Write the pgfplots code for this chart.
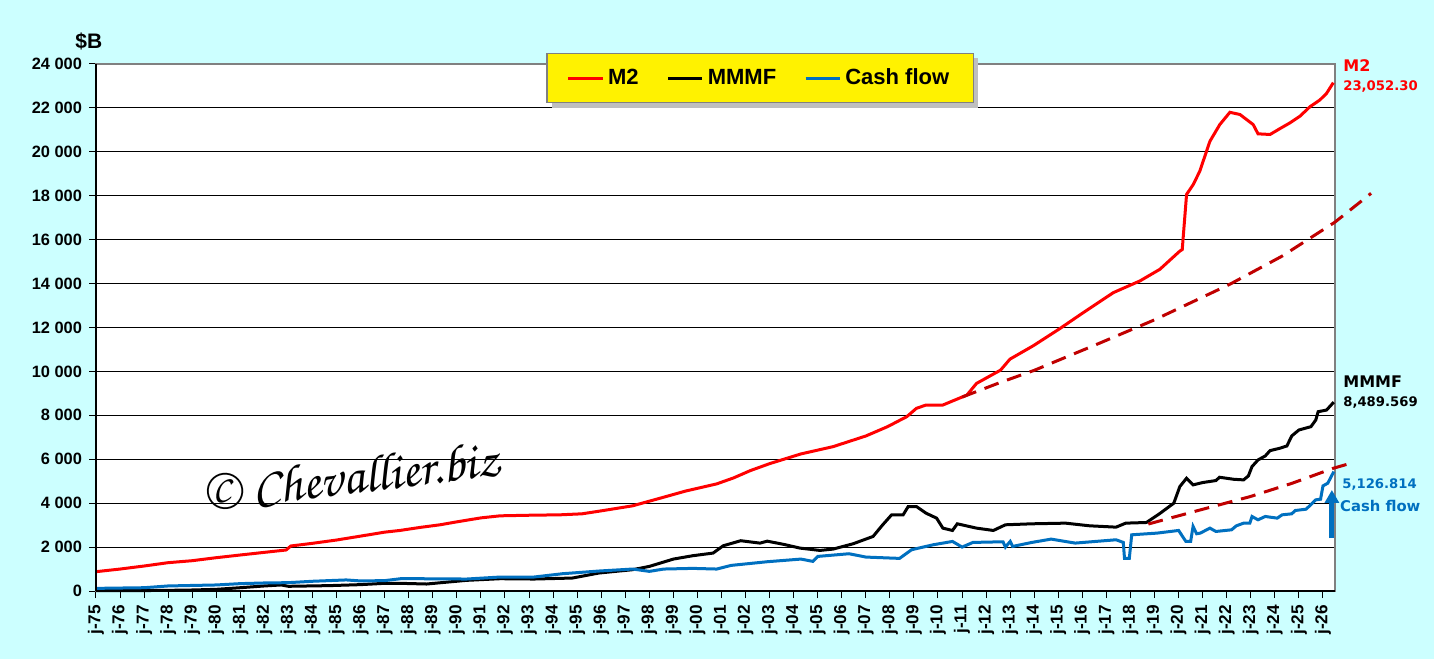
\documentclass[border=0pt]{standalone}
\usepackage{pgfplots}
\pgfplotsset{compat=1.18}
\usepackage{fontspec}
\setmainfont{Liberation Sans}
\newfontfamily\dvs{DejaVu Sans}
\IfFontExistsTF{TeX Gyre Chorus}{\newfontfamily\chorus{TeX Gyre Chorus}}{%
  \IfFontExistsTF{lmroman10-italic.otf}{\newfontfamily\chorus{lmroman10-italic.otf}}{\newcommand\chorus{\itshape}}}
\usetikzlibrary{arrows.meta}
\definecolor{bg}{HTML}{CCFFFF}
\definecolor{cfblue}{HTML}{0070C0}
\definecolor{dred}{HTML}{C00000}
\definecolor{frame}{HTML}{808080}
\begin{document}
\begin{tikzpicture}
\fill[bg] (-48pt,-34pt) rectangle (669pt,295.5pt);
\useasboundingbox (-48pt,-34pt) rectangle (669pt,295.5pt);
\begin{axis}[
  at={(0pt,0pt)}, anchor=south west,
  scale only axis, width=619.5pt, height=263.5pt,
  xmin=1975, xmax=2026.5, ymin=0, ymax=24000,
  clip=false,
  axis background/.style={fill=white},
  axis line style={draw=frame, line width=1pt},
  ytick={0,2000,...,24000},
  scaled y ticks=false,
  ymajorgrids, grid style={black, line width=0.5pt},
  xtick={1975,...,2026},
  xticklabels={j-75,j-76,j-77,j-78,j-79,j-80,j-81,j-82,j-83,j-84,j-85,j-86,j-87,j-88,j-89,j-90,j-91,j-92,j-93,j-94,j-95,j-96,j-97,j-98,j-99,j-00,j-01,j-02,j-03,j-04,j-05,j-06,j-07,j-08,j-09,j-10,j-11,j-12,j-13,j-14,j-15,j-16,j-17,j-18,j-19,j-20,j-21,j-22,j-23,j-24,j-25,j-26},
  tick align=outside, tick pos=left, major tick length=3.5pt,
  tick style={black, line width=0.5pt},
  /pgf/number format/.cd, fixed, 1000 sep={\ }, assume math mode=true,
  /pgfplots/.cd,
  xticklabel style={rotate=90, anchor=east, font=\bfseries\fontsize{8.6}{9}\selectfont},
  yticklabel style={font=\bfseries\fontsize{8.2}{9}\selectfont},
  legend columns=3,
  legend style={at={(0.536,0.973)}, anchor=center, fill=yellow, draw=frame, line width=0.6pt,
    font=\bfseries\fontsize{11}{13}\selectfont, inner xsep=10pt, inner ysep=5.5pt,
    /tikz/every even column/.append style={column sep=12pt}},
]
\node[rotate=7, font=\chorus\fontsize{26}{30}\selectfont] at (axis cs:1985.6,5146) {© Chevallier.biz};
\fill[black!25] (axis cs:1993.95,24273) rectangle (axis cs:2011.66,21996);

\addplot[red, line width=1.5pt] coordinates {
(1975.0,880)(1976.0,1000)(1977.0,1138)(1978.0,1290)(1979.0,1380)(1980.0,1517)(1981.0,1640)(1982.0,1760)(1982.9,1867)(1983.1,2050)(1984.0,2172)(1985.0,2322)(1986.0,2500)(1987.0,2680)(1987.63,2757)(1988.5,2900)(1989.3,3015)(1990.0,3150)(1991.0,3330)(1991.8,3424)(1993.0,3450)(1994.3,3470)(1995.2,3515)(1996.0,3650)(1997.3,3878)(1998.7,4303)(1999.5,4550)(2000.8,4878)(2001.5,5150)(2002.2,5484)(2003.0,5800)(2004.3,6242)(2005.64,6575)(2007.0,7060)(2007.9,7484)(2008.7,7939)(2009.1,8318)(2009.5,8470)(2010.2,8470)(2011.2,8924)(2011.6,9454)(2012.6,10060)(2012.99,10560)(2013.96,11170)(2015.07,11955)(2016.04,12680)(2017.29,13590)(2018.39,14120)(2019.22,14650)(2020.05,15480)(2020.15,15550)(2020.33,18060)(2020.61,18515)(2020.88,19120)(2021.3,20480)(2021.71,21240)(2022.13,21800)(2022.55,21700)(2023.1,21240)(2023.3,20820)(2023.8,20790)(2024.2,21050)(2024.63,21320)(2025.04,21620)(2025.46,22055)(2025.87,22360)(2026.15,22665)(2026.43,23150)
};
\addlegendentry{M2}
\addplot[black, line width=1.5pt] coordinates {
(1975.0,20)(1977.0,20)(1978.0,30)(1979.0,46)(1980.0,76)(1981.0,150)(1982.0,230)(1982.7,275)(1983.0,214)(1984.7,245)(1986.0,290)(1987.0,350)(1987.63,350)(1988.74,318)(1990.4,485)(1991.8,560)(1993.2,545)(1994.8,590)(1995.9,818)(1997.3,970)(1998.0,1120)(1999.0,1454)(1999.8,1606)(2000.65,1727)(2001.07,2060)(2001.8,2290)(2002.6,2180)(2002.9,2270)(2003.6,2120)(2004.26,1954)(2005.09,1848)(2005.64,1909)(2006.47,2151)(2007.3,2485)(2007.7,3015)(2008.07,3470)(2008.55,3470)(2008.76,3848)(2009.1,3848)(2009.5,3545)(2009.94,3318)(2010.2,2863)(2010.6,2757)(2010.8,3060)(2011.6,2863)(2012.3,2757)(2012.8,3015)(2013.9,3060)(2015.3,3090)(2016.3,2969)(2017.4,2908)(2017.8,3090)(2018.66,3120)(2019.2,3515)(2019.8,4000)(2020.05,4757)(2020.33,5136)(2020.6,4833)(2021.0,4939)(2021.55,5030)(2021.7,5181)(2022.27,5090)(2022.7,5060)(2022.9,5242)(2023.05,5666)(2023.3,5969)(2023.6,6150)(2023.8,6393)(2024.2,6500)(2024.5,6605)(2024.7,7060)(2025.0,7333)(2025.5,7484)(2025.7,7787)(2025.8,8166)(2026.15,8242)(2026.3,8424)(2026.45,8600)
};
\addlegendentry{MMMF}
\addplot[cfblue, line width=1.5pt] coordinates {
(1975.0,120)(1977.0,150)(1978.0,230)(1980.0,275)(1981.0,336)(1982.0,366)(1983.0,380)(1984.0,443)(1985.4,504)(1986.0,458)(1987.0,473)(1987.7,565)(1990.4,545)(1991.8,636)(1993.2,636)(1994.4,788)(1995.9,909)(1997.3,1000)(1998.0,894)(1998.6,1000)(1999.8,1030)(2000.8,1000)(2001.4,1166)(2002.9,1333)(2004.3,1454)(2004.8,1348)(2005.0,1575)(2006.3,1697)(2007.0,1545)(2008.4,1485)(2008.9,1879)(2009.8,2106)(2010.6,2257)(2011.0,2000)(2011.45,2212)(2012.7,2242)(2012.8,2000)(2013.0,2257)(2013.1,2030)(2013.9,2212)(2014.7,2363)(2015.7,2182)(2017.4,2333)(2017.7,2212)(2017.75,1485)(2017.95,1485)(2018.05,2560)(2019.1,2636)(2020.0,2757)(2020.3,2257)(2020.5,2257)(2020.6,2939)(2020.75,2606)(2020.9,2636)(2021.3,2863)(2021.55,2712)(2022.2,2787)(2022.4,2969)(2022.7,3090)(2022.96,3090)(2023.05,3394)(2023.3,3242)(2023.6,3394)(2024.1,3318)(2024.3,3469)(2024.7,3515)(2024.85,3666)(2025.3,3727)(2025.7,4151)(2025.9,4181)(2026.0,4787)(2026.2,4909)(2026.45,5439)
};
\addlegendentry{Cash flow}
\addplot[dred, line width=1.5pt, dash pattern=on 7.5pt off 4.5pt, forget plot] coordinates {
(2011.0,8830)(2012.57,9490)(2014.0,10050)(2016.7,11280)(2019.0,12350)(2022.13,13970)(2024.3,15250)(2026.5,16800)(2028.0,18110)
};
\addplot[dred, line width=1.5pt, dash pattern=on 7.5pt off 4.5pt, forget plot] coordinates {
(2018.74,3050)(2020.89,3690)(2022.96,4295)(2024.7,4900)(2026.43,5590)(2027.05,5785)
};
\draw[black, line width=1pt] (rel axis cs:0,0) -- (rel axis cs:0,1);
\draw[black, line width=0.8pt] (rel axis cs:0,0) -- (rel axis cs:1,0);
\draw[cfblue, line width=2.5pt, -{Triangle[width=7pt,length=6.5pt]}] (axis cs:2026.37,2410) -- (axis cs:2026.37,4600);
\node[anchor=base west, text=red, font=\dvs\bfseries\fontsize{8}{9}\selectfont, inner sep=0pt] at (axis cs:2026.83,23636) {M2};
\node[anchor=base west, text=red, font=\dvs\bfseries\fontsize{6.6}{8}\selectfont, inner sep=0pt] at (axis cs:2026.83,22815) {23,052.30};
\node[anchor=base west, text=black, font=\dvs\bfseries\fontsize{8}{9}\selectfont, inner sep=0pt] at (axis cs:2026.83,9245) {MMMF};
\node[anchor=base west, text=black, font=\dvs\bfseries\fontsize{6.6}{8}\selectfont, inner sep=0pt] at (axis cs:2026.83,8380) {8,489.569};
\node[anchor=base west, text=cfblue, font=\dvs\bfseries\fontsize{6.6}{8}\selectfont, inner sep=0pt] at (axis cs:2026.79,4690) {5,126.814};
\node[anchor=base west, text=cfblue, font=\dvs\bfseries\fontsize{7.4}{8}\selectfont, inner sep=0pt] at (axis cs:2026.70,3598) {Cash flow};
\node[anchor=base west, font=\bfseries\fontsize{10.5}{12}\selectfont, inner sep=0pt] at (axis cs:1974.13,24728) {\$B};
\end{axis}
\end{tikzpicture}
\end{document}
